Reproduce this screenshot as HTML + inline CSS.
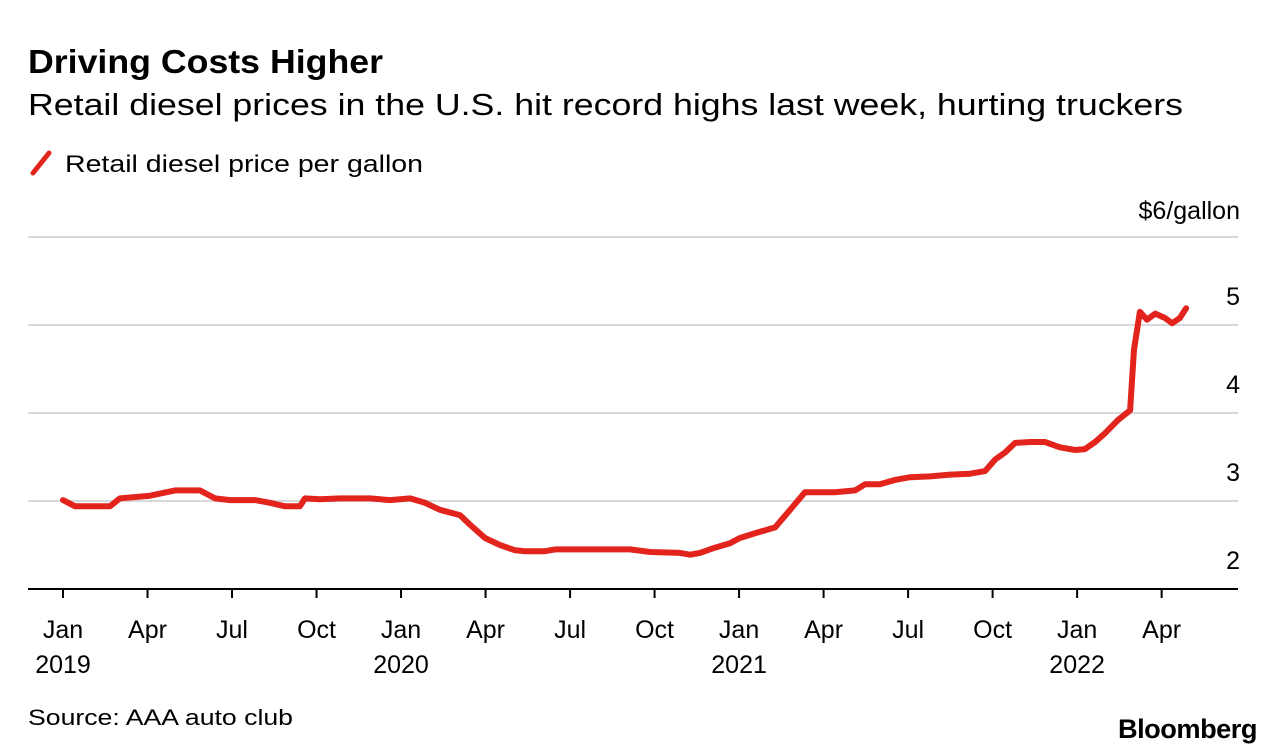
<!DOCTYPE html>
<html><head><meta charset="utf-8">
<style>
body{margin:0;background:#fff;font-family:"Liberation Sans",Arial,sans-serif;}
svg{display:block}
text{font-family:"Liberation Sans",Arial,sans-serif;fill:#000}
</style></head>
<body>
<svg id="chart" width="1285" height="756">
<text x="28" y="73" font-size="33" font-weight="bold" textLength="355" lengthAdjust="spacingAndGlyphs">Driving Costs Higher</text>
<text x="28" y="115" font-size="31" textLength="1155" lengthAdjust="spacingAndGlyphs">Retail diesel prices in the U.S. hit record highs last week, hurting truckers</text>
<line x1="33" y1="173" x2="49" y2="153" stroke="#e3241d" stroke-width="5" stroke-linecap="round"/>
<text x="65" y="172" font-size="24" textLength="358" lengthAdjust="spacingAndGlyphs">Retail diesel price per gallon</text>
<g id="grid"></g>
<g id="xaxis"></g>
<path id="line" fill="none" stroke="#e3241d" stroke-width="6" stroke-linejoin="round" stroke-linecap="round"/>
<text x="28" y="725" font-size="22" textLength="265" lengthAdjust="spacingAndGlyphs">Source: AAA auto club</text>
<text x="1118" y="738" font-size="27" font-weight="bold" textLength="139" lengthAdjust="spacingAndGlyphs" letter-spacing="-0.5">Bloomberg</text>
</svg>
<script>
const months=[0,0.43,1.67,2.02,3.09,3.98,4.86,5.4,5.93,6.82,7.35,7.88,8.41,8.59,9.12,9.83,10.9,11.61,12.32,12.85,13.38,14.09,14.45,14.98,15.51,16.05,16.4,17.11,17.47,18.71,20.13,20.84,21.9,22.26,22.61,23.15,23.68,24.03,24.74,25.28,25.81,26.34,26.87,27.41,28.12,28.47,29.0,29.54,30.07,30.78,31.49,32.2,32.73,33.09,33.44,33.8,34.33,34.86,35.39,35.93,36.28,36.64,36.99,37.45,37.88,38.02,38.23,38.48,38.77,39.12,39.37,39.65,39.87];
const prices=[3.01,2.94,2.94,3.03,3.06,3.12,3.12,3.03,3.01,3.01,2.98,2.94,2.94,3.03,3.02,3.03,3.03,3.01,3.03,2.98,2.90,2.84,2.73,2.58,2.50,2.44,2.43,2.43,2.45,2.45,2.45,2.42,2.41,2.39,2.41,2.47,2.52,2.58,2.65,2.70,2.90,3.10,3.10,3.10,3.12,3.19,3.19,3.24,3.27,3.28,3.30,3.31,3.34,3.47,3.55,3.66,3.67,3.67,3.61,3.58,3.59,3.67,3.77,3.92,4.03,4.72,5.15,5.06,5.13,5.08,5.02,5.08,5.19];
const yTicks=[2,3,4,5,6];
const yTickLabels=["2","3","4","5","$6/gallon"];
const xTickMonths=[0,3,6,9,12,15,18,21,24,27,30,33,36,39];
const xTickLabels=["Jan","Apr","Jul","Oct","Jan","Apr","Jul","Oct","Jan","Apr","Jul","Oct","Jan","Apr"];
const yearLabels={0:"2019",12:"2020",24:"2021",36:"2022"};
const NS="http://www.w3.org/2000/svg";
const x=m=>63+m*28.17;
const y=v=>589-(v-2)*88;
function mk(tag,attrs,parent){const e=document.createElementNS(NS,tag);for(const k in attrs)e.setAttribute(k,attrs[k]);parent.appendChild(e);return e;}
const grid=document.getElementById('grid');
yTicks.forEach((v,i)=>{
  if(v>2){const l=mk('line',{x1:28,x2:1238,y1:y(v),y2:y(v),stroke:'#d9d9d9','stroke-width':2},grid);
  
  }
  const t=mk('text',{x:1240,y:v===6?y(v)-18:y(v)-20,'font-size':25,'text-anchor':'end'},grid);
  t.textContent=yTickLabels[i];
  
  
});
const xa=document.getElementById('xaxis');
const ax=mk('line',{x1:28,x2:1238,y1:589,y2:589,stroke:'#000','stroke-width':2},xa);


xTickMonths.forEach((m,i)=>{
  const tk=mk('line',{x1:x(m),x2:x(m),y1:589,y2:598,stroke:'#000','stroke-width':2},xa);
  
  
  const t=mk('text',{x:x(m),y:638,'font-size':25,'text-anchor':'middle'},xa);
  t.textContent=xTickLabels[i];
  
  
  if(yearLabels[m]){const yt=mk('text',{x:x(m),y:673,'font-size':25,'text-anchor':'middle'},xa);
  yt.textContent=yearLabels[m];
  
  }
});
document.getElementById('line').setAttribute('d',months.map((m,i)=>(i?'L':'M')+x(m).toFixed(1)+','+y(prices[i]).toFixed(1)).join(''));
</script>
</body></html>
